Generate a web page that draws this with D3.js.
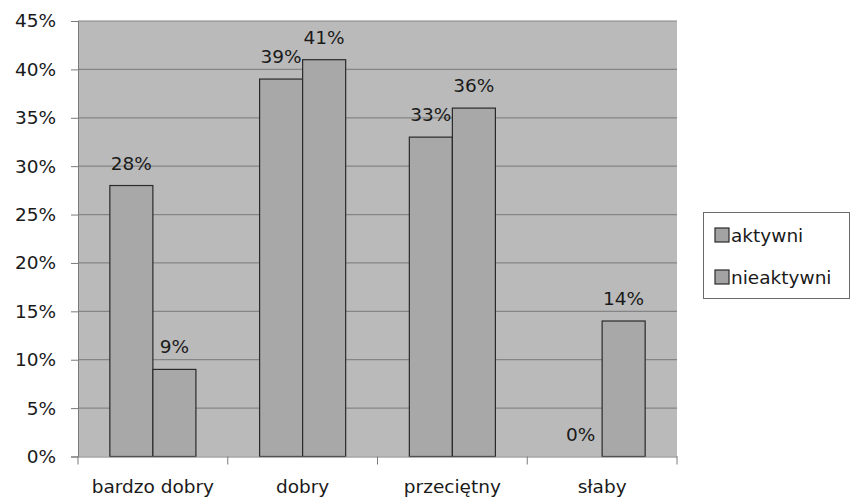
<!DOCTYPE html>
<html><head><meta charset="utf-8">
<script src="https://cdn.jsdelivr.net/npm/d3@7/dist/d3.min.js"></script>
<style>body{margin:0;background:#fff}svg{display:block}text{font-family:"DejaVu Sans",sans-serif;fill:#1a1a1a}</style>
</head><body>
<svg id="c" width="850" height="498"></svg>
<script>
const categories = ["bardzo dobry", "dobry", "przeciętny", "słaby"];
const seriesNames = ["aktywni", "nieaktywni"];
const aktywni = [28, 39, 33, 0];
const nieaktywni = [9, 41, 36, 14];
const yTicks = [0, 5, 10, 15, 20, 25, 30, 35, 40, 45];

const seriesValues = [aktywni, nieaktywni];
const svg = d3.select("#c");
const L = 78, R = 677, T = 21, B = 456.5;

const x = d3.scaleBand().domain(categories).range([L, R]).padding(0);
const x1 = d3.scaleBand().domain(seriesNames).range([0, x.bandwidth()]).paddingInner(0).paddingOuter(0.74);
const y = d3.scaleLinear().domain([0, 45]).range([B, T]);

svg.append("rect").attr("x", L).attr("y", T).attr("width", R - L).attr("height", B - T).attr("fill", "#bababa");

// gridlines
svg.append("g").selectAll("line").data(yTicks.filter(d => d > 0)).join("line")
  .attr("x1", L).attr("x2", R).attr("y1", d => y(d)).attr("y2", d => y(d))
  .attr("stroke", "#858585").attr("stroke-width", 1.2);

// bars
const rows = categories.map((c, i) => ({c, vals: seriesNames.map((s, j) => ({s, v: seriesValues[j][i]}))}));
const g = svg.append("g").selectAll("g").data(rows).join("g").attr("transform", d => `translate(${x(d.c)},0)`);
g.selectAll("rect").data(d => d.vals.filter(e => e.v > 0)).join("rect")
  .attr("x", d => x1(d.s)).attr("width", x1.bandwidth())
  .attr("y", d => y(d.v)).attr("height", d => y(0) - y(d.v))
  .attr("fill", "#a8a8a8").attr("stroke", "#2a2a2a").attr("stroke-width", 1.2);
g.selectAll("text").data(d => d.vals).join("text")
  .attr("x", d => x1(d.s) + x1.bandwidth() / 2).attr("y", d => y(d.v) - 16)
  .attr("text-anchor", "middle").attr("font-size", 18.5).text(d => d.v + "%");

// y axis
const ya = d3.axisLeft(y).tickValues(yTicks).tickFormat(d => d + "%").tickSize(7).tickPadding(15);
const yg = svg.append("g").attr("transform", `translate(${L},0)`).call(ya);
yg.select(".domain").attr("stroke", "#7a7a7a");
yg.selectAll(".tick line").attr("stroke", "#7a7a7a");
yg.selectAll(".tick text").attr("font-size", 18.5).attr("font-family", "DejaVu Sans").attr("fill", "#1a1a1a");

// x axis
const xa = d3.axisBottom(x).tickSize(0).tickPadding(0);
const xg = svg.append("g").attr("transform", `translate(0,${B})`).call(xa);
xg.select(".domain").attr("stroke", "#7a7a7a");
xg.selectAll(".tick text").attr("font-size", 18.5).attr("font-family", "DejaVu Sans").attr("fill", "#1a1a1a").attr("y", 36.5).attr("dy", 0);
const bounds = [L].concat(categories.map(c => x(c) + x.bandwidth()));
svg.append("g").selectAll("line").data(bounds).join("line")
  .attr("x1", d => d).attr("x2", d => d).attr("y1", B).attr("y2", B + 8).attr("stroke", "#7a7a7a");

// legend
const lg = svg.append("g");
lg.append("rect").attr("x", 703.5).attr("y", 212.5).attr("width", 146).attr("height", 86).attr("fill", "#fff").attr("stroke", "#6a6a6a");
const li = lg.selectAll("g").data(seriesNames).join("g").attr("transform", (d, i) => `translate(715,${228 + i * 42})`);
li.append("rect").attr("width", 14).attr("height", 14).attr("fill", "#a3a3a3").attr("stroke", "#2a2a2a").attr("stroke-width", 1.2);
li.append("text").attr("x", 16).attr("y", 14).attr("font-size", 18.5).text(d => d);
</script>
</body></html>
